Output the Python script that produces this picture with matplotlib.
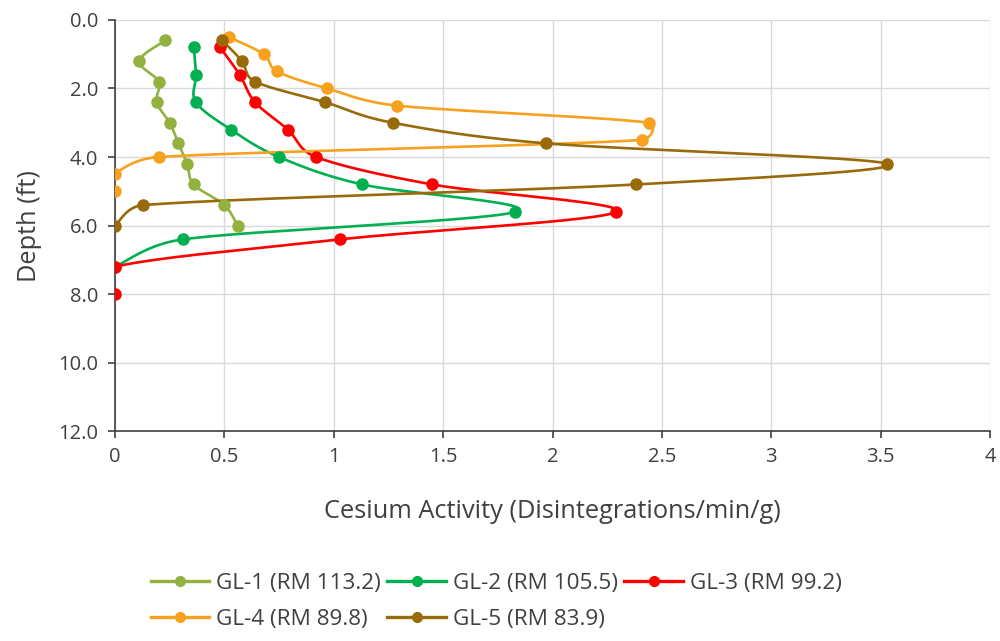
import numpy as np
import matplotlib
matplotlib.use("Agg")
import matplotlib.pyplot as plt
from matplotlib.lines import Line2D

plt.rcParams['font.family'] = ['Open Sans', 'DejaVu Sans']

# --- data ---
labels = ["GL-1 (RM 113.2)", "GL-2 (RM 105.5)", "GL-3 (RM 99.2)",
          "GL-4 (RM 89.8)", "GL-5 (RM 83.9)"]
colors = ["#92B13F", "#00B050", "#FF0000", "#F7A11E", "#996A0A"]

gl1_depth = [0.6, 1.2, 1.8, 2.4, 3.0, 3.6, 4.2, 4.8, 5.4, 6.0]
gl1_cs = [0.23, 0.11, 0.20, 0.19, 0.25, 0.29, 0.33, 0.36, 0.50, 0.56]

gl2_depth = [0.8, 1.6, 2.4, 3.2, 4.0, 4.8, 5.6, 6.4, 7.2]
gl2_cs = [0.36, 0.37, 0.37, 0.53, 0.75, 1.13, 1.83, 0.31, 0.0]

gl3_depth = [0.8, 1.6, 2.4, 3.2, 4.0, 4.8, 5.6, 6.4, 7.2, 8.0]
gl3_cs = [0.48, 0.57, 0.64, 0.79, 0.92, 1.45, 2.29, 1.03, 0.0, 0.0]

gl4_depth = [0.5, 1.0, 1.5, 2.0, 2.5, 3.0, 3.5, 4.0, 4.5, 5.0]
gl4_cs = [0.52, 0.68, 0.74, 0.97, 1.29, 2.44, 2.41, 0.20, 0.0, 0.0]

gl5_depth = [0.6, 1.2, 1.8, 2.4, 3.0, 3.6, 4.2, 4.8, 5.4, 6.0]
gl5_cs = [0.49, 0.58, 0.64, 0.96, 1.27, 1.97, 3.53, 2.38, 0.13, 0.0]

series = [(gl1_cs, gl1_depth), (gl2_cs, gl2_depth), (gl3_cs, gl3_depth),
          (gl4_cs, gl4_depth), (gl5_cs, gl5_depth)]

# pixels per data unit (axis is 875 px wide for 4 units, 411 px tall for 12 ft)
PX_X = 875 / 4.0
PX_Y = 411 / 12.0


def smooth_line(x, y, steps=30):
    """Excel-like smoothed scatter line: bezier segments, control arm = |P2-P0|/6
    but never more than half of the segment (worked out in pixel space)"""
    p = np.column_stack([np.asarray(x) * PX_X, np.asarray(y) * PX_Y])
    n = len(p)
    t = np.linspace(0, 1, steps)[:, None]
    out = []
    for i in range(n - 1):
        p0 = p[max(i - 1, 0)]
        p1, p2 = p[i], p[i + 1]
        p3 = p[min(i + 2, n - 1)]
        d12 = np.linalg.norm(p2 - p1)
        if d12 == 0:
            continue
        tan1 = p2 - p0
        tan2 = p3 - p1
        l1 = np.linalg.norm(tan1)
        l2 = np.linalg.norm(tan2)
        a1 = min(l1 / 6, d12 / 2)
        a2 = min(l2 / 6, d12 / 2)
        c1 = p1 + (tan1 / l1 * a1 if l1 > 0 else 0)
        c2 = p2 - (tan2 / l2 * a2 if l2 > 0 else 0)
        seg = ((1 - t) ** 3 * p1 + 3 * (1 - t) ** 2 * t * c1 +
               3 * (1 - t) * t ** 2 * c2 + t ** 3 * p2)
        out.append(seg)
    out = np.vstack(out)
    return out[:, 0] / PX_X, out[:, 1] / PX_Y


fig = plt.figure(figsize=(10, 6.41), dpi=100)
ax = fig.add_axes([0.115, 0.327, 0.875, 0.642])

for (xs, ys), c in zip(series, colors):
    sx, sy = smooth_line(xs, ys)
    ax.plot(sx, sy, color=c, lw=1.9, solid_capstyle='round', zorder=3)
    ax.plot(xs, ys, ls='none', marker='o', ms=8, color=c, zorder=4)

ax.set_xlim(0, 4)
ax.set_ylim(12, 0)
ax.set_xticks(np.arange(0, 4.01, 0.5))
ax.set_xticklabels(["0", "0.5", "1", "1.5", "2", "2.5", "3", "3.5", "4"])
ax.set_yticks(np.arange(0, 12.01, 2))
ax.set_yticklabels([f"{v:.1f}" for v in np.arange(0, 12.01, 2)])

ax.grid(True, color='#D9D9D9', lw=1)
ax.set_axisbelow(True)
for s in ['top', 'right']:
    ax.spines[s].set_visible(False)
for s in ['left', 'bottom']:
    ax.spines[s].set_color('#404040')
    ax.spines[s].set_linewidth(1.2)
ax.tick_params(axis='both', labelsize=14.5, colors='#404040', length=5,
               width=1.2, labelcolor='#404040')
ax.tick_params(axis='x', pad=6)
ax.tick_params(axis='y', pad=7)

ax.set_xlabel("Cesium Activity (Disintegrations/min/g)", fontsize=18.3,
              color='#404040', labelpad=23)
ax.set_ylabel("Depth (ft)", fontsize=18.3, color='#404040', labelpad=12)

# legend filled column-wise, so order the handles to read row by row
order = [0, 3, 1, 4, 2]
handles = [Line2D([], [], color=colors[i], lw=2.4, marker='o', ms=7)
           for i in order]
fig.legend(handles, [labels[i] for i in order], loc='center',
           bbox_to_anchor=(0.496, 0.062), ncol=3, frameon=False,
           fontsize=16.2, handlelength=2.6, handletextpad=0.3,
           columnspacing=0.3, labelspacing=0.65, labelcolor='#404040')

fig.savefig("out.png", dpi=100)
